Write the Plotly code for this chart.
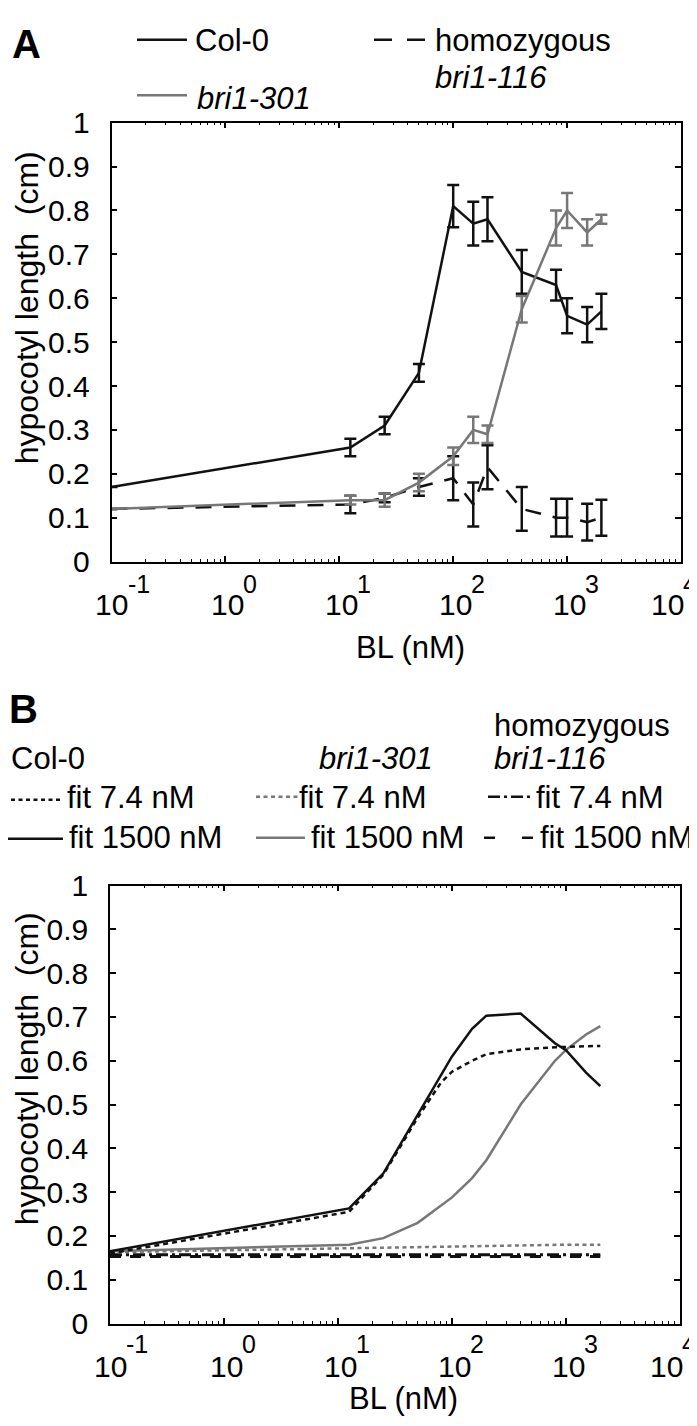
import plotly.graph_objects as go

W, H = 697, 1426
FONT = "Liberation Sans, Arial, Helvetica, sans-serif"
BLACK = "#111111"
GRAY = "#777777"

# ---------------- data: panel A (measured hypocotyl length) ----------------
# first entry = untreated control, drawn at the left edge of the log axis
bl_conc = [0.1, 12.5, 25, 50, 100, 150, 200, 400, 800, 1000, 1500, 2000]
col0_len = [0.17, 0.26, 0.31, 0.43, 0.81, 0.77, 0.78, 0.66, 0.63, 0.56, 0.54, 0.57]
col0_err = [None, 0.02, 0.02, 0.02, 0.048, 0.05, 0.05, 0.05, 0.035, 0.04, 0.04, 0.04]
bri301_len = [0.12, 0.14, 0.14, 0.18, 0.24, 0.30, 0.29, 0.575, 0.76, 0.80, 0.75, 0.78]
bri301_err = [None, 0.01, 0.015, 0.02, 0.02, 0.03, 0.02, 0.03, 0.04, 0.04, 0.03, 0.01]
bri116_len = [0.12, 0.13, 0.145, 0.17, 0.19, 0.13, 0.215, 0.12, 0.10, 0.10, 0.09, 0.10]
bri116_err = [None, 0.02, 0.01, 0.02, 0.05, 0.05, 0.05, 0.05, 0.043, 0.043, 0.042, 0.041]

# ---------------- data: panel B (model fits) ----------------
fit_conc = [0.1, 12.5, 25, 50, 100, 150, 200, 400, 800, 1000, 1500, 2000]
col0_fit1500 = [0.165, 0.263, 0.343, 0.475, 0.61, 0.673, 0.703, 0.708, 0.64, 0.624, 0.573, 0.542]
bri301_fit1500 = [0.165, 0.18, 0.195, 0.23, 0.288, 0.332, 0.373, 0.50, 0.60, 0.625, 0.66, 0.679]
bri301_fit74 = [0.163, 0.172, 0.174, 0.176, 0.177, 0.178, 0.178, 0.179, 0.18, 0.18, 0.18, 0.18]
bri116_fit74 = [0.157, 0.157, 0.157, 0.157, 0.157, 0.157, 0.157, 0.157, 0.157, 0.157, 0.157, 0.157]
bri116_fit1500 = [0.153, 0.153, 0.153, 0.153, 0.153, 0.153, 0.153, 0.153, 0.153, 0.153, 0.153, 0.153]
col0_fit74_conc = [0.1, 12.5, 25, 50, 65, 80, 100, 150, 200, 400, 800, 1000, 1500, 2000]
col0_fit74 = [0.16, 0.255, 0.34, 0.47, 0.515, 0.55, 0.575, 0.60, 0.615, 0.626, 0.631, 0.632, 0.633, 0.634]

x_tick_exp = [-1, 0, 1, 2, 3, 4]

fig = go.Figure()


def errbar(vals, color):
    return dict(type="data", array=vals, visible=True, color=color, thickness=2.5, width=6)


# panel A traces
fig.add_trace(go.Scatter(x=bl_conc, y=bri116_len, mode="lines",
                         line=dict(color=BLACK, width=2.5, dash="16px,12px"),
                         error_y=errbar(bri116_err, BLACK), showlegend=False,
                         xaxis="x", yaxis="y"))
fig.add_trace(go.Scatter(x=bl_conc, y=col0_len, mode="lines",
                         line=dict(color=BLACK, width=2.5),
                         error_y=errbar(col0_err, BLACK), showlegend=False,
                         xaxis="x", yaxis="y"))
fig.add_trace(go.Scatter(x=bl_conc, y=bri301_len, mode="lines",
                         line=dict(color=GRAY, width=2.5),
                         error_y=errbar(bri301_err, GRAY), showlegend=False,
                         xaxis="x", yaxis="y"))

# panel B traces
fig.add_trace(go.Scatter(x=fit_conc, y=bri116_fit1500, mode="lines",
                         line=dict(color=BLACK, width=3, dash="11px,9px"),
                         showlegend=False, xaxis="x2", yaxis="y2"))
fig.add_trace(go.Scatter(x=fit_conc, y=bri116_fit74, mode="lines",
                         line=dict(color=BLACK, width=3, dash="12px,4px,3px,4px"),
                         showlegend=False, xaxis="x2", yaxis="y2"))
fig.add_trace(go.Scatter(x=fit_conc, y=bri301_fit74, mode="lines",
                         line=dict(color=GRAY, width=2.5, dash="4px,3.5px"),
                         showlegend=False, xaxis="x2", yaxis="y2"))
fig.add_trace(go.Scatter(x=fit_conc, y=bri301_fit1500, mode="lines",
                         line=dict(color=GRAY, width=2.5),
                         showlegend=False, xaxis="x2", yaxis="y2"))
fig.add_trace(go.Scatter(x=col0_fit74_conc, y=col0_fit74, mode="lines",
                         line=dict(color=BLACK, width=2.5, dash="5px,4px"),
                         showlegend=False, xaxis="x2", yaxis="y2"))
fig.add_trace(go.Scatter(x=fit_conc, y=col0_fit1500, mode="lines",
                         line=dict(color=BLACK, width=2.5),
                         showlegend=False, xaxis="x2", yaxis="y2"))


def px(x):
    return x / W


def py(y):
    return 1 - y / H


xcommon = dict(type="log", range=[-1, 4], tick0=0, dtick=1, ticks="inside", ticklen=6,
               tickwidth=1.5, tickcolor="black", showline=True, linecolor="black",
               linewidth=1.5, mirror="ticks", showgrid=False, zeroline=False,
               showticklabels=False,
               minor=dict(ticks="inside", ticklen=3, tickwidth=1, tickcolor="black",
                          dtick="D1", showgrid=False))
ycommon = dict(range=[0, 1], tick0=0, dtick=0.1, ticks="inside", ticklen=6, tickwidth=1.5,
               tickcolor="black", showline=True, linecolor="black", linewidth=1.5,
               mirror="ticks", showgrid=False, zeroline=False, ticklabelstandoff=14,
               tickfont=dict(family=FONT, size=30, color="black"))

fig.update_layout(
    width=W, height=H, margin=dict(l=0, r=0, t=0, b=0),
    paper_bgcolor="white", plot_bgcolor="white",
    font=dict(family=FONT, size=30, color="black"),
    xaxis=dict(xcommon, domain=[px(103.5), px(673)], anchor="y"),
    yaxis=dict(ycommon, domain=[py(549.3), py(100)], anchor="x"),
    xaxis2=dict(xcommon, domain=[px(102), px(672)], anchor="y2"),
    yaxis2=dict(ycommon, domain=[py(1329.3), py(881)], anchor="x2"),
    showlegend=False,
)

ann = []
# x tick labels (10 with raised exponent)
for xr, yr, eshift in (("x", "y", -22), ("x2", "y2", -20)):
    for e in x_tick_exp:
        bs = 2
        if e == -1:
            bs = 0
        if e == 4:
            bs = -14
        ann.append(dict(x=e, y=0, xref=xr, yref=yr, text="10", showarrow=False,
                        xanchor="center", yanchor="middle", xshift=bs, yshift=-43,
                        borderpad=0, font=dict(size=30)))
        ann.append(dict(x=e, y=0, xref=xr, yref=yr, text=str(e), showarrow=False,
                        xanchor="left", yanchor="middle", xshift=bs + 15, yshift=eshift,
                        borderpad=0, font=dict(size=25)))


def txt(x, y, s, size=31, anchor="left", angle=0):
    ann.append(dict(x=px(x), y=py(y), xref="paper", yref="paper", text=s, showarrow=False,
                    xanchor=anchor, yanchor="middle", textangle=angle, borderpad=0,
                    font=dict(size=size)))


# axis titles
txt(402, 637, "BL (nM)", 31, "center")
txt(395, 1406, "BL (nM)", 31, "center")
txt(19, 290, "hypocotyl length\u00a0\u00a0(cm)", 32, "center", -90)
txt(19, 1069, "hypocotyl length\u00a0\u00a0(cm)", 32, "center", -90)
# panel letters
txt(3, 19, "<b>A</b>", 40)
txt(0, 700, "<b>B</b>", 40)

# legend A
txt(186, 16, "Col-0")
txt(188, 75, "<i>bri1-301</i>")
txt(426, 16, "homozygous")
txt(426, 54, "<i>bri1-116</i>")
# legend B
txt(485, 717, "homozygous")
txt(2, 751, "Col-0")
txt(310, 751, "<i>bri1-301</i>")
txt(485, 751, "<i>bri1-116</i>")
txt(58, 791, "fit 7.4 nM")
txt(290, 791, "fit 7.4 nM")
txt(527, 791, "fit 7.4 nM")
txt(60, 832, "fit 1500 nM")
txt(302, 832, "fit 1500 nM")
txt(531, 832, "fit 1500 nM")

shapes = []


def seg(x0, x1, y, color, dash="solid", width=2.5):
    shapes.append(dict(type="line", xref="paper", yref="paper", x0=px(x0), x1=px(x1),
                       y0=py(y), y1=py(y), line=dict(color=color, width=width, dash=dash)))


seg(129, 179, 15, BLACK)
seg(129, 179, 72, GRAY)
seg(366, 417, 15, BLACK, "18px,15px")
seg(3, 55, 793, BLACK, "4px,3.5px")
seg(0, 55, 833, BLACK)
seg(248, 290, 790, GRAY, "4px,3.5px")
seg(248, 297, 832, GRAY)
seg(480, 525, 790, BLACK, "12px,4px,3px,4px")
seg(476, 527, 832, BLACK, "11px,27px")

fig.update_layout(annotations=ann, shapes=shapes)
fig.write_html("out.html")
